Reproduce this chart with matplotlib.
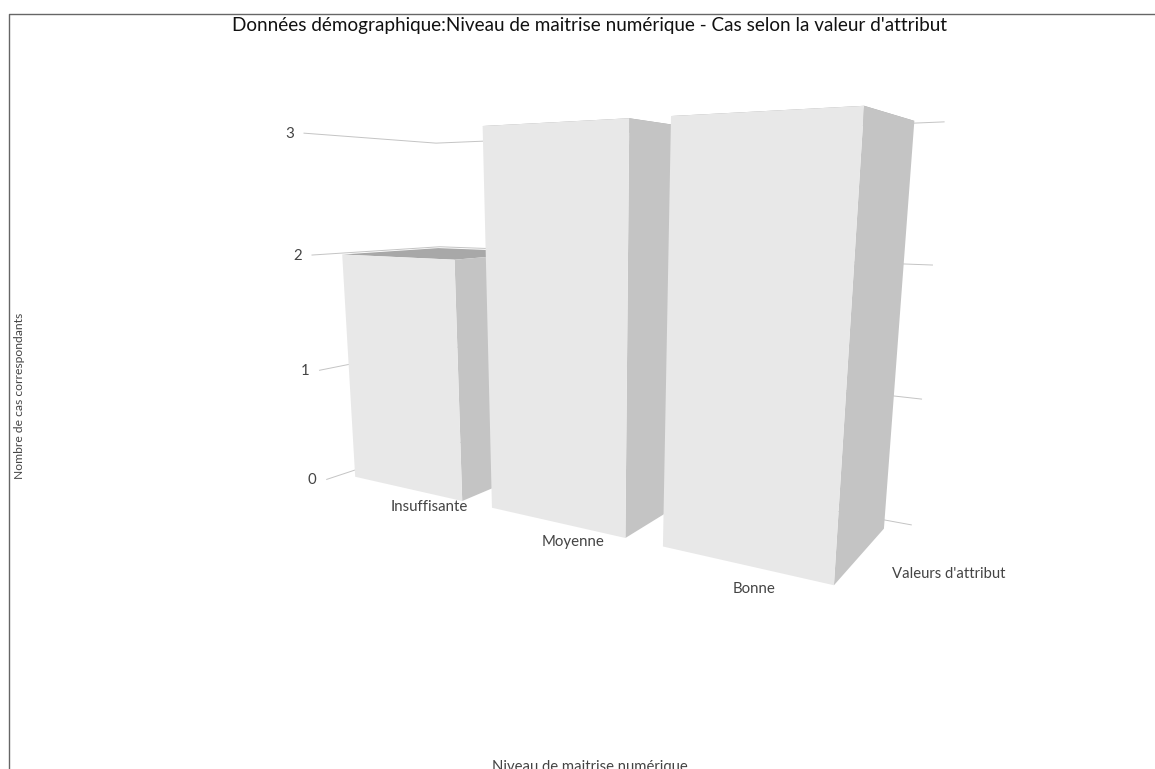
import numpy as np
import matplotlib
matplotlib.use('Agg')
import matplotlib.pyplot as plt

plt.rcParams['font.family'] = ['Lato', 'DejaVu Sans']

# data to plot
categories = ['Insuffisante', 'Moyenne', 'Bonne']
counts = [2, 3, 3]
value_ticks = [0, 1, 2, 3]

title = "Données démographique:Niveau de maitrise numérique - Cas selon la valeur d'attribut"
xlabel = 'Niveau de maitrise numérique'
ylabel = 'Nombre de cas correspondants'
zlabel = "Valeurs d'attribut"

# camera: vanishing points of the three box directions, image of the origin, axis scales
vanish_x = np.array([-875.0, 198.0, 1.0])
vanish_y = np.array([589.0, 4480.0, 1.0])
vanish_z = np.array([1175.0, 199.0, 1.0])
origin = np.array([343.0, 474.0, 1.0])
scale_x, scale_y, scale_z = -0.09906, -0.02604, 0.1224

bar_margin = 0.1
bar_depth = 1.0
wall_z = 1.16
tick_z = -0.157

front_color = '#e8e8e8'
side_color = '#c4c4c4'
top_color = '#a8a8a8'
grid_color = '#c4c4c4'
text_color = '#444444'

# pixel nudges for the category labels under each bar
label_offsets = [(23, 19), (17, 20), (10, 24)]


def project(x, y, z):
    p = x*scale_x*vanish_x + y*scale_y*vanish_y + z*scale_z*vanish_z + origin
    return p[0]/p[2], p[1]/p[2]


def face(points):
    xs, ys = zip(*[project(*pt) for pt in points])
    return xs, ys


fig = plt.figure(figsize=(11.55, 7.69), dpi=100)
ax = fig.add_axes([0, 0, 1, 1])
ax.set_xlim(0, 1155)
ax.set_ylim(769, 0)
ax.axis('off')

# outer frame, left and top only
ax.plot([9, 9, 1155], [769, 14, 14], color='#666666', lw=1.0)

# gridlines run along the left wall, then the back wall
n_groups = len(categories)
for val in value_ticks:
    xs, ys = face([(0, val, tick_z), (0, val, wall_z), (n_groups, val, wall_z)])
    ax.plot(xs, ys, color=grid_color, lw=0.7, zorder=1)
    ax.text(xs[0] - 14.5, ys[0] + 0.5, str(val), color=text_color, fontsize=10.8,
            ha='center', va='center')

# bars, left to right so nearer ones cover the side of the previous one
for i, val in enumerate(counts):
    x0 = i + bar_margin
    x1 = i + 1 - bar_margin
    top = face([(x0, val, 0), (x1, val, 0), (x1, val, bar_depth), (x0, val, bar_depth)])
    side = face([(x1, 0, 0), (x1, val, 0), (x1, val, bar_depth), (x1, 0, bar_depth)])
    front = face([(x0, 0, 0), (x1, 0, 0), (x1, val, 0), (x0, val, 0)])
    ax.fill(*top, color=top_color, lw=0, zorder=2 + i)
    ax.fill(*side, color=side_color, lw=0, zorder=2 + i)
    ax.fill(*front, color=front_color, lw=0, zorder=2 + i)

    lx, ly = project(i + 0.5, 0, 0)
    ax.text(lx + label_offsets[i][0], ly + label_offsets[i][1], categories[i],
            color=text_color, fontsize=10.8, ha='center', va='center')

ax.text(590, 25, title, color='#111111', fontsize=13.55, ha='center', va='center')
ax.text(949, 573.5, zlabel, color=text_color, fontsize=10.75, ha='center', va='center')
ax.text(590, 760.5, xlabel, color=text_color, fontsize=10.7, ha='center', va='top')
ax.text(20, 396, ylabel, color=text_color, fontsize=8.7, rotation=90,
        ha='center', va='center')

fig.savefig('out.png', dpi=100)
